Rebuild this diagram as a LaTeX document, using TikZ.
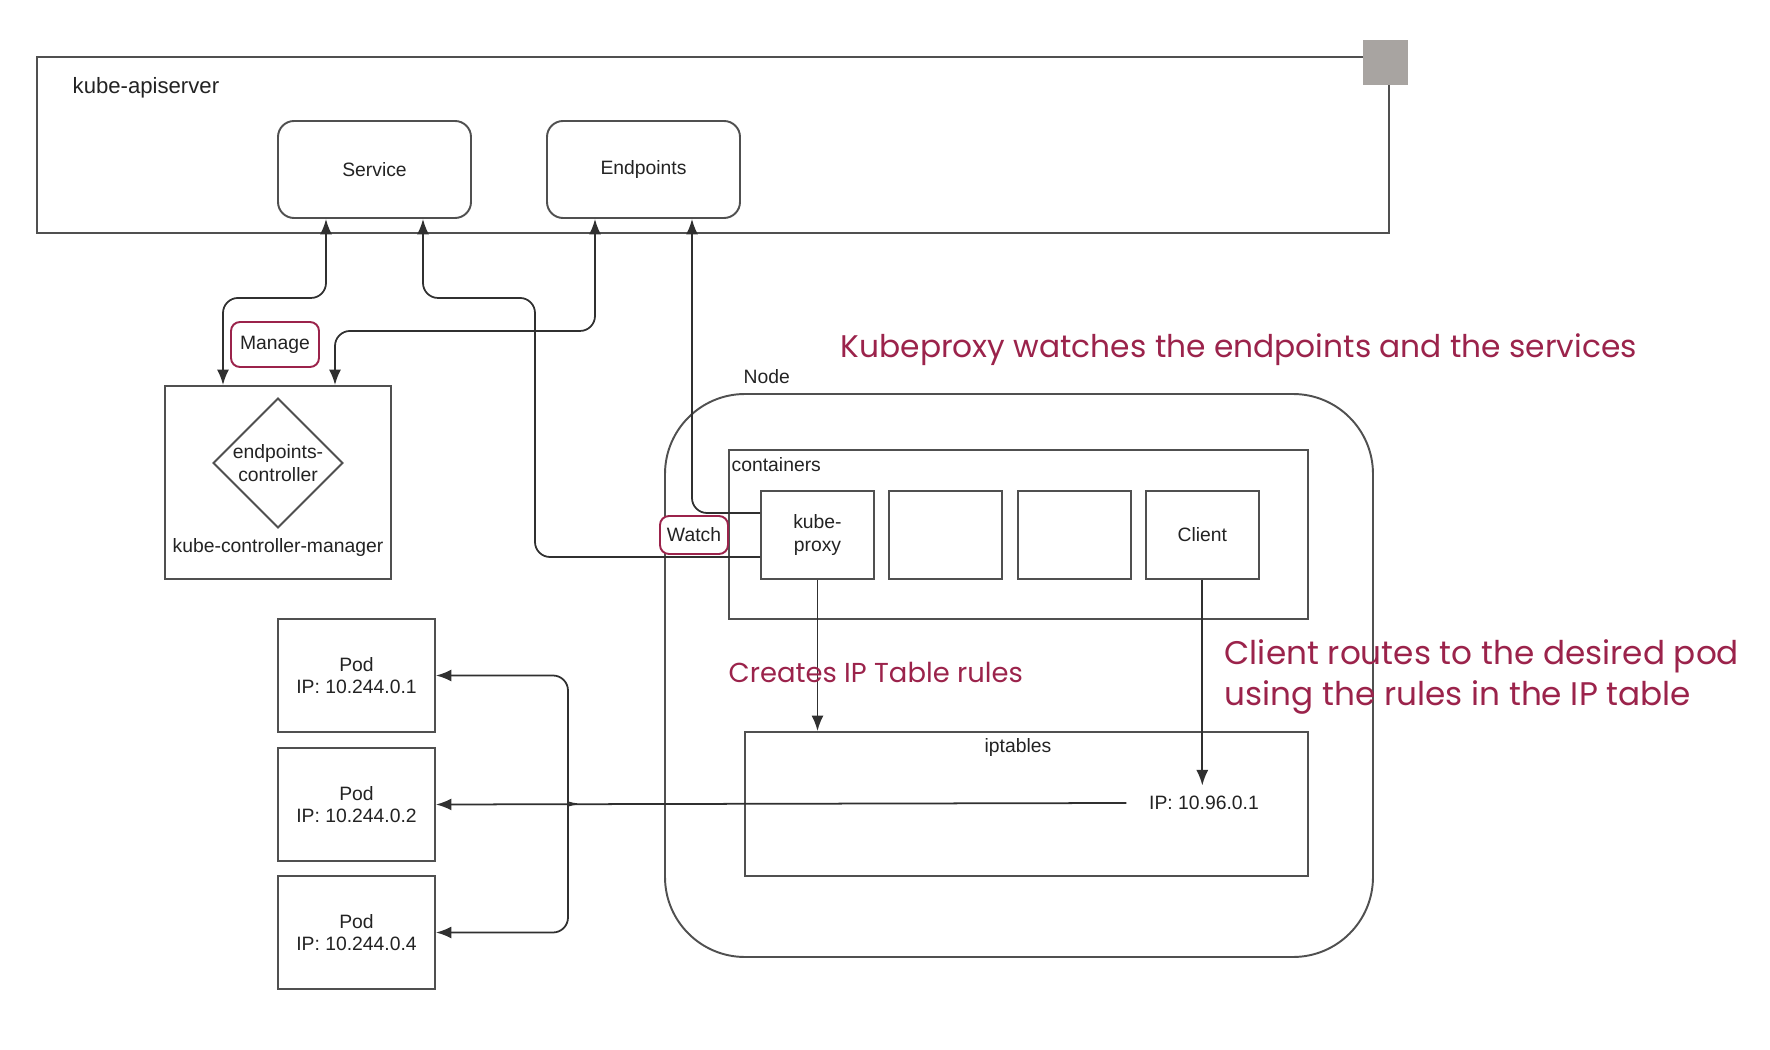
\documentclass[tikz,border=0pt]{standalone}
\usepackage{fontspec}
\setmainfont{Liberation Sans}
\newfontfamily\handfont{Poppins}
\usetikzlibrary{shapes.geometric,arrows.meta,positioning,calc}
\definecolor{linegray}{RGB}{80,80,80}
\definecolor{textgray}{RGB}{35,35,35}
\definecolor{notered}{RGB}{155,35,75}
\definecolor{handlegray}{RGB}{168,164,161}

\begin{document}
\begin{tikzpicture}[x=0.1mm,y=-0.1mm,
  box/.style={draw=linegray, line width=0.55pt, fill=white, text=textgray,
    font=\fontsize{5.5}{6.4}\selectfont, align=center, inner sep=0pt},
  rbox/.style={box, rounded corners=1.6mm},
  tag/.style={box, draw=notered, rounded corners=0.9mm},
  lbl/.style={text=textgray, font=\fontsize{5.5}{6.4}\selectfont, inner sep=0pt},
  hand/.style={text=notered, font=\handfont\fontsize{8.5}{11.4}\selectfont,
    inner sep=0pt, align=left},
  conn/.style={draw=linegray!60!black, line width=0.5pt, rounded corners=1.5mm,
    >={Latex[length=1.55mm,width=1.2mm]}}]
\useasboundingbox (0,0) rectangle (1770,1050);

% kube-apiserver
\node[box, minimum width=135.2mm, minimum height=17.6mm] (api) at (713,145) {};
\fill[handlegray] (1363,40) rectangle (1408,85);
\node[lbl, anchor=west, font=\fontsize{6.3}{7.5}\selectfont] at (72,88) {kube-apiserver};
\node[rbox, minimum width=19.3mm, minimum height=9.7mm] (svc) at (374.5,169.5) {Service};
\node[rbox, minimum width=19.3mm, minimum height=9.7mm] (ep) at (643.5,169.5) {Endpoints};

% kube-controller-manager
\node[box, minimum width=22.6mm, minimum height=19.3mm] (kcm) at (278,482.5) {};
\node[box, diamond, minimum size=13mm] (epc) at (278,463) {endpoints-\\controller};
\node[lbl] at (278,547) {kube-controller-manager};

% Node
\node[box, fill=none, rounded corners=8mm, minimum width=70.8mm, minimum height=56.3mm] (worker) at (1019,675.5) {};
\node[lbl, anchor=west] at (743,377) {Node};
\node[box, minimum width=57.9mm, minimum height=16.9mm] (cont) at (1018.5,534.5) {};
\node[lbl, anchor=west] at (731,465) {containers};
\node[box, minimum width=11.3mm, minimum height=8.8mm] (kp) at (817.5,535) {kube-\\proxy};
\node[box, minimum width=11.3mm, minimum height=8.8mm, right=1.35mm of kp] (c2) {};
\node[box, minimum width=11.3mm, minimum height=8.8mm, right=1.35mm of c2] (c3) {};
\node[box, minimum width=11.3mm, minimum height=8.8mm, right=1.3mm of c3] (client) {Client};
\node[box, minimum width=56.3mm, minimum height=14.4mm] (ipt) at (1026.5,804) {};
\node[lbl] at (1018,748) {iptables};
\node[lbl, inner sep=1mm] (vip) at (1204,803) {IP: 10.96.0.1};

% Pods
\foreach \ip/\y [count=\i] in {1/675.5, 2/804.5, 4/932.5}
  \node[box, minimum width=15.7mm, minimum height=11.3mm] (pod\i) at (356.5,\y) {Pod\\IP: 10.244.0.\ip};

% Manage and watch
\draw[conn,<->] ([xshift=-4.85mm]svc.south) -- ++(0,79) -| ([xshift=-5.5mm]kcm.north);
\draw[conn,<->] ([xshift=-4.85mm]ep.south) -- ++(0,112) -| ([xshift=5.7mm]kcm.north);
\draw[conn,<-] ([xshift=4.85mm]svc.south) -- ++(0,79) -| (535,557) -- ([yshift=-2.2mm]kp.west);
\draw[conn,<-] ([xshift=4.85mm]ep.south) |- ([yshift=2.2mm]kp.west);
\node[tag, minimum width=8.8mm, minimum height=4.5mm] (manage) at (275,344.5) {Manage};
\node[tag, minimum width=6.8mm, minimum height=3.8mm] (watch) at (694,535) {Watch};

% Rules and routing
\draw[conn,->] (kp.south) -- (kp.south |- ipt.north);
\draw[conn,->] (client.south) -- (client.south |- vip.north);
\coordinate (fork) at (577,804);
\draw[conn,->] ([xshift=-1.2mm]vip.west) -- (pod2.east);
\draw[conn,->] (fork) .. controls (569,804) and (568,800) .. (568,790) |- (pod1.east);
\draw[conn,->] (fork) .. controls (569,804) and (568,808) .. (568,818) |- (pod3.east);

% Notes
\node[hand, anchor=west, font=\handfont\fontsize{8.9}{11.4}\selectfont] (note1) at (840,350) {Kubeproxy watches the endpoints and the services};
\node[hand, anchor=west, font=\handfont\fontsize{7.8}{11.4}\selectfont] (note2) at (728,672) {Creates IP Table rules};
\node[hand, anchor=west, font=\handfont\fontsize{9.3}{11.4}\selectfont] (note3) at (1224,677) {Client routes to the desired pod\\using the rules in the IP table};
\end{tikzpicture}
\end{document}
